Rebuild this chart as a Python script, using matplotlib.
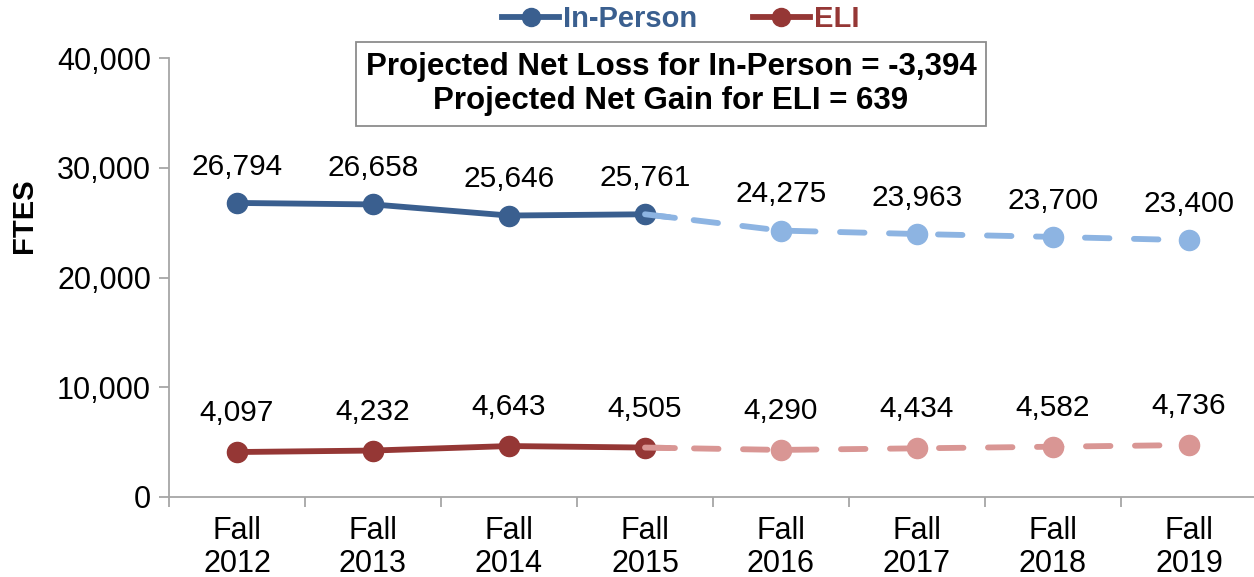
import matplotlib
matplotlib.use('Agg')
import matplotlib.pyplot as plt
from matplotlib.lines import Line2D

plt.rcParams['font.family'] = ['Liberation Sans', 'DejaVu Sans']

# data
years = ['Fall\n2012', 'Fall\n2013', 'Fall\n2014', 'Fall\n2015',
         'Fall\n2016', 'Fall\n2017', 'Fall\n2018', 'Fall\n2019']
in_person = [26794, 26658, 25646, 25761, 24275, 23963, 23700, 23400]
eli = [4097, 4232, 4643, 4505, 4290, 4434, 4582, 4736]
n_actual = 4  # 2012-2015 actual, rest projected

IP_DARK, IP_LIGHT = '#3A5F8F', '#8DB4E2'
ELI_DARK, ELI_LIGHT = '#953735', '#D99694'

fig = plt.figure(figsize=(12.54, 5.77), dpi=100)
ax = fig.add_axes([169 / 1254, 80 / 577, 1088 / 1254, 439 / 577])

x = list(range(len(years)))
lw = 4.2
ms = 14.5


def draw_series(vals, dark, light, label_dy):
    # projected part (dashed, starting at the last actual point)
    ax.plot(x[n_actual:], vals[n_actual:], color=light, marker='o',
            ms=ms, ls='none', zorder=3)
    ax.plot(x[n_actual - 1:], vals[n_actual - 1:], color=light, lw=lw,
            dashes=(4.2, 4.2), dash_capstyle='round', zorder=2)
    ax.plot(x[:n_actual], vals[:n_actual], color=dark, lw=lw, marker='o',
            ms=ms, solid_capstyle='round', zorder=3)
    # light stub over the 2015 marker
    t = 0.22
    ax.plot([x[n_actual - 1], x[n_actual - 1] + t],
            [vals[n_actual - 1], vals[n_actual - 1] + t * (vals[n_actual] - vals[n_actual - 1])],
            color=light, lw=lw, solid_capstyle='round', zorder=4)
    for xi, v in zip(x, vals):
        ax.annotate(f'{v:,}', (xi, v), xytext=(0, label_dy),
                    textcoords='offset points', ha='center', va='center',
                    fontsize=21.5, color='black')


draw_series(in_person, IP_DARK, IP_LIGHT, 26)
draw_series(eli, ELI_DARK, ELI_LIGHT, 28)

ax.set_xlim(-0.5, 7.5)
ax.set_ylim(0, 40000)
yt = [0, 10000, 20000, 30000, 40000]
ax.set_yticks(yt)
ax.set_yticklabels([f'{v:,}' for v in yt], fontsize=22)
ax.set_xticks(x)
ax.set_xticklabels(years, fontsize=22, linespacing=1.1)
ax.set_xticks([i + 0.5 for i in range(-1, 8)], minor=True)
ax.tick_params(axis='x', which='major', length=0, pad=14)
ax.tick_params(axis='x', which='minor', length=7, color='#A6A6A6', width=1.3)
ax.tick_params(axis='y', length=7, color='#A6A6A6', width=1.3, pad=6)

for s in ['top', 'right']:
    ax.spines[s].set_visible(False)
for s in ['left', 'bottom']:
    ax.spines[s].set_color('#A6A6A6')
    ax.spines[s].set_linewidth(1.3)

ax.set_ylabel('FTES', fontsize=21, fontweight='bold')
ax.yaxis.set_label_coords(-0.1205, 0.64)

# legend
handles = [Line2D([], [], color=IP_DARK, lw=lw, marker='o', ms=13),
           Line2D([], [], color=ELI_DARK, lw=lw, marker='o', ms=13)]
leg = fig.legend(handles, ['In-Person', 'ELI'], loc='center',
                 bbox_to_anchor=(681 / 1254, 1 - 19 / 577), ncol=2,
                 frameon=False, handlelength=1.95, handletextpad=0.15,
                 columnspacing=1.9, prop={'size': 21, 'weight': 'bold'})
leg.get_texts()[0].set_color(IP_DARK)
leg.get_texts()[1].set_color(ELI_DARK)

# annotation box
fig.text(671 / 1254, 1 - 84 / 577,
         'Projected Net Loss for In-Person = -3,394\nProjected Net Gain for ELI = 639',
         ha='center', va='center', fontsize=22.5, fontweight='bold',
         linespacing=1.2,
         bbox=dict(boxstyle='square,pad=0.3', fc='white', ec='#8C8C8C', lw=1.3))

fig.savefig('out.png', dpi=100, facecolor='white')
